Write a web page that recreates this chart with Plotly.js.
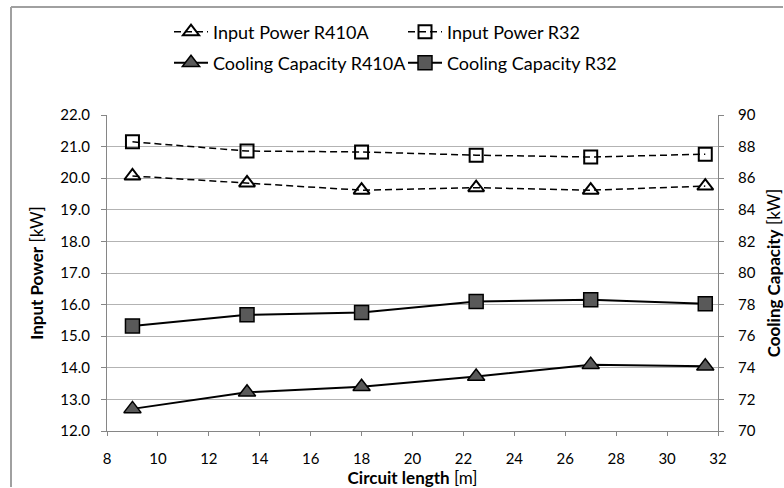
<!DOCTYPE html>
<html>
<head>
<meta charset="utf-8">
<script src="https://cdn.plot.ly/plotly-3.0.1.min.js"></script>
<style>
html,body{margin:0;padding:0;background:#fff;overflow:hidden;}
#wrap{position:relative;width:784px;height:488px;overflow:hidden;}
#chart{width:784px;height:488px;}
</style>
</head>
<body>
<div id="wrap"><div id="chart"></div></div>
<script>
// Data
const circuitLength = [9, 13.5, 18, 22.5, 27, 31.5];
const inputPowerR410A = [20.07, 19.85, 19.62, 19.70, 19.62, 19.75];
const inputPowerR32 = [21.15, 20.86, 20.83, 20.73, 20.67, 20.76];
const coolingR410A = [71.4, 72.45, 72.8, 73.45, 74.2, 74.1];
const coolingR32 = [76.65, 77.35, 77.5, 78.2, 78.3, 78.05];
const seriesNames = ["Input Power R410A", "Input Power R32", "Cooling Capacity R410A", "Cooling Capacity R32"];

const FONT = "Lato, 'Open Sans', sans-serif";
const gridColor = "#b3b3b3";
const axisColor = "#868686";

const traces = [
  {x: circuitLength, y: inputPowerR410A, name: seriesNames[0], mode: "lines+markers", yaxis: "y",
   line: {color: "#000", width: 1.5, dash: "7px,4px"},
   marker: {symbol: "triangle-up-open", size: 14, color: "#000", line: {width: 2, color: "#000"}},
   legend: "legend"},
  {x: circuitLength, y: inputPowerR32, name: seriesNames[1], mode: "lines+markers", yaxis: "y",
   line: {color: "#000", width: 1.5, dash: "7px,4px"},
   marker: {symbol: "square-open", size: 13, color: "#000", line: {width: 2, color: "#000"}},
   legend: "legend2"},
  {x: circuitLength, y: coolingR410A, name: seriesNames[2], mode: "lines+markers", yaxis: "y2",
   line: {color: "#000", width: 2},
   marker: {symbol: "triangle-up", size: 15, color: "#595959", line: {width: 1.5, color: "#000"}},
   legend: "legend3"},
  {x: circuitLength, y: coolingR32, name: seriesNames[3], mode: "lines+markers", yaxis: "y2",
   line: {color: "#000", width: 2},
   marker: {symbol: "square", size: 14, color: "#595959", line: {width: 1.5, color: "#000"}},
   legend: "legend4"}
];

function leg(x, y) {
  return {xref: "container", yref: "container", x: x, y: y, xanchor: "left", yanchor: "middle",
    orientation: "h", bgcolor: "rgba(0,0,0,0)", borderwidth: 0, itemwidth: 34,
    font: {family: FONT, size: 18, color: "#000"}};
}

const fx = (px) => (px - 107) / 611;
const fy = (py) => (431 - py) / 316;

const layout = {
  width: 784, height: 488,
  margin: {l: 107, r: 66, t: 115, b: 57, pad: 0},
  paper_bgcolor: "#fff", plot_bgcolor: "#fff",
  font: {family: FONT, size: 15, color: "#000"},
  showlegend: true,
  legend: leg(169/784, 1 - 32/488),
  legend2: leg(403/784, 1 - 32/488),
  legend3: leg(169/784, 1 - 63/488),
  legend4: leg(403/784, 1 - 63/488),
  xaxis: {
    range: [8, 32], dtick: 2, tick0: 8, showgrid: false, zeroline: false,
    showline: true, linecolor: axisColor, linewidth: 1,
    ticks: "outside", ticklen: 4, tickcolor: axisColor, ticklabelstandoff: 10,
    tickfont: {family: FONT, size: 15},
    title: {text: "<b>Circuit length</b> [m]", font: {family: FONT, size: 17}, standoff: 6}
  },
  yaxis: {
    range: [12, 22], dtick: 1, tick0: 12, tickformat: ".1f", showgrid: true, gridcolor: gridColor, gridwidth: 1,
    zeroline: false, showline: true, linecolor: axisColor, linewidth: 1,
    ticks: "outside", ticklen: 5, tickcolor: axisColor, ticklabelstandoff: 8,
    tickfont: {family: FONT, size: 15},
    title: {text: "<b>Input Power</b> [kW]", font: {family: FONT, size: 17}, standoff: 12}
  },
  yaxis2: {
    range: [70, 90], dtick: 2, tick0: 70, overlaying: "y", side: "right", showgrid: false,
    zeroline: false, showline: true, linecolor: axisColor, linewidth: 1,
    ticks: "outside", ticklen: 5, tickcolor: axisColor, ticklabelstandoff: 11,
    tickfont: {family: FONT, size: 15},
    title: {text: "<b>Cooling Capacity</b> [kW]", font: {family: FONT, size: 17}, standoff: 14}
  },
  shapes: [
    {type: "line", xref: "paper", yref: "paper", x0: fx(11), x1: fx(11), y0: fy(487), y1: fy(7),
     line: {color: "#a0a0a0", width: 2}},
    {type: "line", xref: "paper", yref: "paper", x0: fx(11), x1: fx(783), y0: fy(7), y1: fy(7),
     line: {color: "#a0a0a0", width: 2}}
  ]
};

Plotly.newPlot("chart", traces, layout, {displayModeBar: false, staticPlot: true});
</script>
</body>
</html>
